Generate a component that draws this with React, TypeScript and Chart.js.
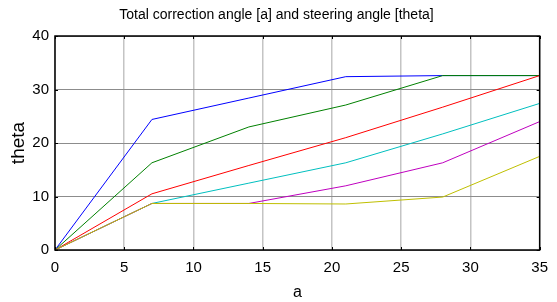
import React, { useEffect, useRef } from "react";
import { Chart, registerables } from "chart.js";

Chart.register(...registerables);

const xValues = [0, 7, 14, 21, 28, 35];
const seriesBlue = [0, 24.4, 28.4, 32.4, 32.6, 32.6];
const seriesGreen = [0, 16.3, 23.0, 27.1, 32.6, 32.6];
const seriesRed = [0, 10.5, 15.8, 21.0, 26.7, 32.6];
const seriesCyan = [0, 8.7, 12.5, 16.3, 21.7, 27.4];
const seriesMagenta = [0, 8.7, 8.7, 12.0, 16.3, 24.0];
const seriesYellow = [0, 8.7, 8.7, 8.6, 9.9, 17.5];
const xTicks = [0, 5, 10, 15, 20, 25, 30, 35];
const yTicks = [0, 10, 20, 30, 40];

const titleText = "Total correction angle [a] and steering angle [theta]";
const xLabel = "a";
const yLabel = "theta";

const FONT = "'Liberation Sans', Arial, sans-serif";

const boxPlugin = {
  id: "matlabBox",
  afterDraw(chart: any) {
    const { ctx, chartArea, scales } = chart;
    const { left, right, top, bottom } = chartArea;
    ctx.save();
    ctx.strokeStyle = "#000";
    ctx.lineWidth = 1;
    const tl = 3;
    ctx.beginPath();
    xTicks.forEach((v) => {
      const px = Math.round(scales.x.getPixelForValue(v)) + 0.5;
      ctx.moveTo(px, bottom);
      ctx.lineTo(px, bottom - tl);
      ctx.moveTo(px, top);
      ctx.lineTo(px, top + tl);
    });
    yTicks.forEach((v) => {
      const py = Math.round(scales.y.getPixelForValue(v)) + 0.5;
      ctx.moveTo(left, py);
      ctx.lineTo(left + tl, py);
      ctx.moveTo(right, py);
      ctx.lineTo(right - tl, py);
    });
    ctx.stroke();
    ctx.lineWidth = 1.5;
    ctx.strokeRect(left, top, right - left, bottom - top);
    ctx.restore();
  },
};

export default function App() {
  const ref = useRef<HTMLCanvasElement | null>(null);
  useEffect(() => {
    if (!ref.current) return;
    const mk = (label: string, data: number[], color: string) => ({
      label,
      data: xValues.map((x, i) => ({ x, y: data[i] })),
      borderColor: color,
      backgroundColor: color,
      borderWidth: 1,
      pointRadius: 0,
      fill: false,
      tension: 0,
    });
    const chart = new Chart(ref.current, {
      type: "line",
      data: {
        datasets: [
          mk("blue", seriesBlue, "#0000ff"),
          mk("green", seriesGreen, "#008000"),
          mk("red", seriesRed, "#ff0000"),
          mk("cyan", seriesCyan, "#00bfbf"),
          mk("magenta", seriesMagenta, "#bf00bf"),
          mk("yellow", seriesYellow, "#bfbf00"),
        ].reverse(),
      },
      plugins: [boxPlugin],
      options: {
        animation: false,
        responsive: false,
        maintainAspectRatio: false,
        devicePixelRatio: 1,
        layout: { padding: { left: 13, right: 17, top: 0, bottom: 0 } },
        plugins: {
          legend: { display: false },
          tooltip: { enabled: false },
          title: {
            display: true,
            text: titleText,
            color: "#000",
            font: { family: FONT, size: 14, weight: "normal", lineHeight: 1.2 },
            padding: { top: 7, bottom: 12.2 },
          },
        },
        scales: {
          x: {
            type: "linear",
            min: 0,
            max: 35,
            afterBuildTicks: (s: any) => {
              s.ticks = xTicks.map((v) => ({ value: v }));
            },
            afterFit: (s: any) => {
              s.height = 52;
            },
            ticks: {
              color: "#000",
              font: { family: FONT, size: 15 },
              padding: 9,
              maxRotation: 0,
              autoSkip: false,
            },
            grid: {
              color: "#c4c4c4",
              lineWidth: 1.5,
              drawTicks: false,
            },
            border: { display: false },
            title: {
              display: true,
              text: xLabel,
              color: "#000",
              font: { family: FONT, size: 16 },
              padding: { top: 0, bottom: 0 },
            },
          },
          y: {
            type: "linear",
            min: 0,
            max: 40,
            afterBuildTicks: (s: any) => {
              s.ticks = yTicks.map((v) => ({ value: v }));
            },
            afterFit: (s: any) => {
              s.width = 42;
            },
            ticks: {
              color: "#000",
              font: { family: FONT, size: 15 },
              padding: 6,
              autoSkip: false,
            },
            grid: {
              color: "#8c8c8c",
              lineWidth: 1,
              drawTicks: false,
            },
            border: { display: false },
            title: {
              display: true,
              text: yLabel,
              color: "#000",
              font: { family: FONT, size: 19, lineHeight: 0.6 },
              padding: { top: 0, bottom: 0 },
            },
          },
        },
      },
    } as any);
    return () => chart.destroy();
  }, []);
  return (
    <div style={{ position: "fixed", left: 0, top: 0, width: 557, height: 302, background: "#fff" }}>
      <canvas ref={ref} width={557} height={302} style={{ width: 557, height: 302, display: "block" }} />
    </div>
  );
}
